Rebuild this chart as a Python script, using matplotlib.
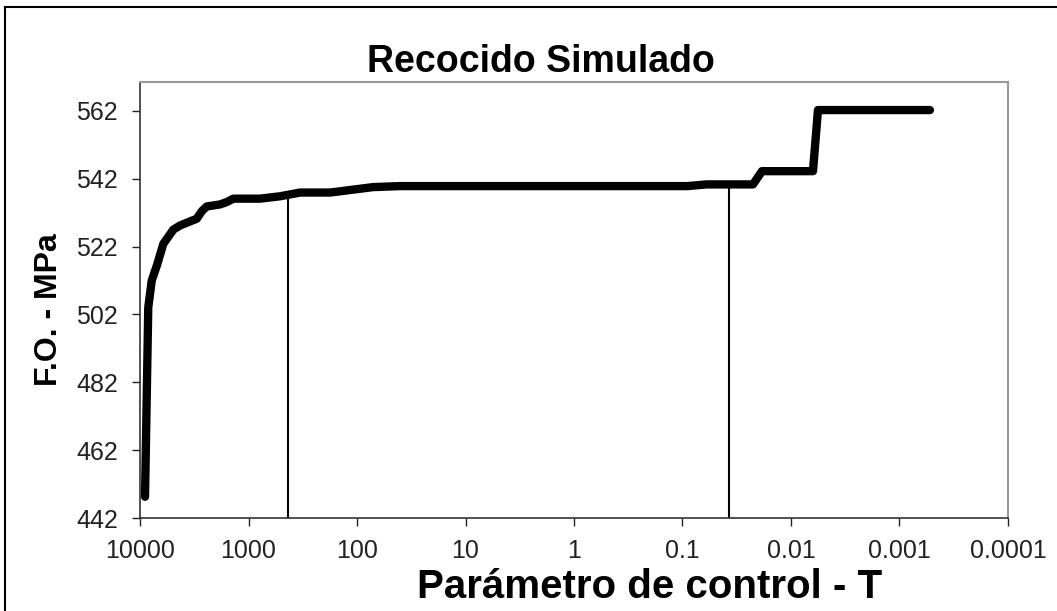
import numpy as np
import matplotlib.pyplot as plt
from matplotlib.lines import Line2D

# curve: control parameter T and objective value (MPa)
temp = [9000, 8400, 7800, 7000, 6100, 4930, 4275, 3000, 2700, 2430,
        1830, 1590, 1380, 783, 513, 335, 177, 71.3, 40.2,
        0.09, 0.06, 0.0224, 0.0185, 0.00627, 0.00564, 0.000524]
fo = [448.3, 504.1, 512.0, 516.4, 522.8, 527.0, 528.2, 530.2, 532.4, 533.8,
      534.4, 535.1, 536.1, 536.1, 536.8, 537.9, 537.9, 539.5, 539.8,
      539.8, 540.3, 540.3, 544.2, 544.2, 562.2, 562.2]

# marker lines
mark_t = [435, 0.0371]
mark_fo = [536.6, 540.3]

xticks = [10000, 1000, 100, 10, 1, 0.1, 0.01, 0.001, 0.0001]
xtick_labels = ['10000', '1000', '100', '10', '1', '0.1', '0.01', '0.001', '0.0001']
yticks = [442, 462, 482, 502, 522, 542, 562]

plt.rcParams['font.family'] = ['Liberation Sans', 'DejaVu Sans']

fig = plt.figure(figsize=(10.57, 6.11), dpi=100)
ax = fig.add_axes([0.1325, 0.152, 0.8211, 0.714])

ax.plot(temp, fo, color='black', linewidth=6, solid_joinstyle='round',
        solid_capstyle='round')
ax.vlines(mark_t, 442, mark_fo, color='black', linewidth=1.5)

ax.set_xscale('log')
ax.set_xlim(10000, 0.0001)
ax.set_ylim(442, 570.5)
ax.set_xticks(xticks)
ax.set_xticklabels(xtick_labels)
ax.minorticks_off()
ax.set_yticks(yticks)

ax.tick_params(direction='out', length=6, width=1, labelsize=18, colors='#222222',
               labelcolor='#222222')
ax.tick_params(axis='y', pad=10)
ax.tick_params(axis='x', pad=9)

for s in ['top', 'right']:
    ax.spines[s].set_color('#999999')
    ax.spines[s].set_linewidth(1.5)
for s in ['left', 'bottom']:
    ax.spines[s].set_color('#333333')
    ax.spines[s].set_linewidth(1.2)

fig.text(0.512, 0.882, 'Recocido Simulado', fontsize=27, fontweight='bold',
         ha='center', va='baseline')
ax.set_xlabel('Parámetro de control - T', fontsize=29, fontweight='bold')
ax.xaxis.set_label_coords(0.5876, -0.115)
ax.set_ylabel('F.O. - MPa', fontsize=23, fontweight='bold')
ax.yaxis.set_label_coords(-0.088, 0.477)

# outer chart frame (top and left edges)
fig.add_artist(Line2D([0.005, 0.005], [0.0, 0.988], transform=fig.transFigure,
                      color='black', linewidth=1.5))
fig.add_artist(Line2D([0.005, 1.0], [0.988, 0.988], transform=fig.transFigure,
                      color='black', linewidth=1.5))

fig.savefig('out.png', dpi=100)
